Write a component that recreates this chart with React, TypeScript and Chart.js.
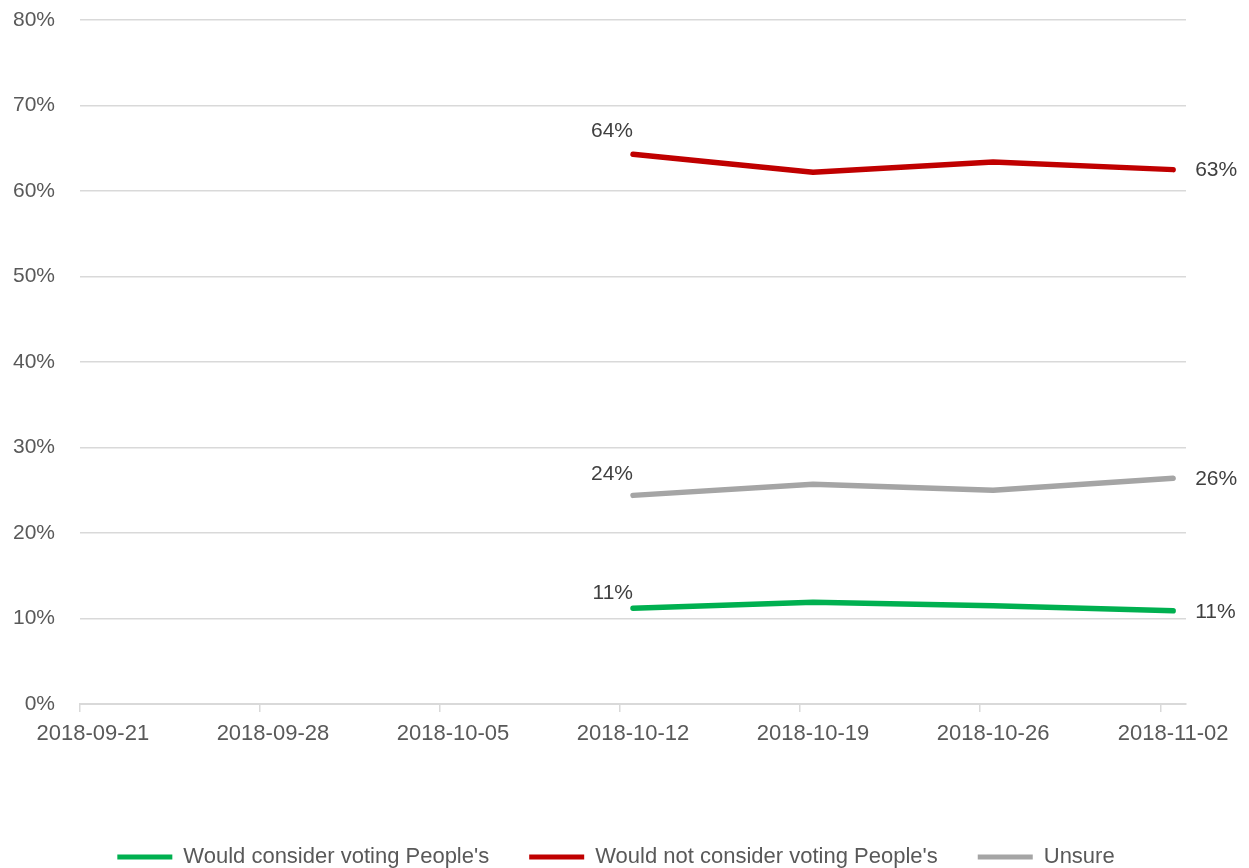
import React, { useEffect, useRef } from "react";
import { Chart, registerables } from "chart.js";

Chart.register(...registerables);

// ---- data ----
const startDate = "2018-09-21";
const endDate = "2018-11-02";
const tickLabels = [
  "2018-09-21",
  "2018-09-28",
  "2018-10-05",
  "2018-10-12",
  "2018-10-19",
  "2018-10-26",
  "2018-11-02",
];
const surveyDates = ["2018-10-12", "2018-10-19", "2018-10-26", "2018-11-02"];
const wouldConsider = [11.2, 11.9, 11.5, 10.9];
const wouldNotConsider = [64.3, 62.2, 63.4, 62.5];
const unsure = [24.4, 25.7, 25.0, 26.4];
const seriesNames = [
  "Would consider voting People's",
  "Would not consider voting People's",
  "Unsure",
];
const seriesColors = ["#00B050", "#C00000", "#A5A5A5"];
const firstLabelLift = [15, 23, 21];

const FONT = '"Liberation Sans", Arial, sans-serif';

function buildDays(): string[] {
  const out: string[] = [];
  const d = new Date(startDate + "T00:00:00Z");
  for (;;) {
    const iso = d.toISOString().slice(0, 10);
    out.push(iso);
    if (iso >= endDate) break;
    d.setUTCDate(d.getUTCDate() + 1);
  }
  return out;
}

const days = buildDays();

const toPoints = (vals: number[]) =>
  surveyDates.map((x, i) => ({ x, y: vals[i] }));

const endLabels = {
  id: "endLabels",
  afterDatasetsDraw(chart: any) {
    const ctx = chart.ctx;
    ctx.save();
    ctx.font = `21px ${FONT}`;
    ctx.fillStyle = "#404040";
    ctx.textBaseline = "middle";
    chart.data.datasets.forEach((ds: any, i: number) => {
      const meta = chart.getDatasetMeta(i);
      const pts = meta.data;
      if (!pts.length) return;
      const first = pts[0];
      const last = pts[pts.length - 1];
      const v0 = ds.data[0].y;
      const v1 = ds.data[ds.data.length - 1].y;
      ctx.textAlign = "right";
      ctx.fillText(Math.round(v0) + "%", first.x, first.y - firstLabelLift[i]);
      ctx.textAlign = "left";
      ctx.fillText(Math.round(v1) + "%", last.x + 22, last.y + 1);
    });
    ctx.restore();
  },
};

export default function App() {
  const ref = useRef<HTMLCanvasElement | null>(null);

  useEffect(() => {
    if (!ref.current) return;
    const seriesValues = [wouldConsider, wouldNotConsider, unsure];
    const chart = new Chart(ref.current, {
      type: "line",
      data: {
        labels: days,
        datasets: seriesValues.map((vals, i) => ({
          label: seriesNames[i],
          data: toPoints(vals) as any,
          borderColor: seriesColors[i],
          backgroundColor: seriesColors[i],
          borderWidth: 5.5,
          borderCapStyle: "round",
          borderJoinStyle: "round",
          pointRadius: 0,
          tension: 0,
          fill: false,
          yAxisID: "y",
        })),
      },
      options: {
        responsive: false,
        animation: false,
        layout: { padding: { top: 20, right: 17, left: 0, bottom: 0 } },
        scales: {
          x: {
            type: "category",
            offset: true,
            grid: {
              offset: true,
              drawOnChartArea: false,
              drawTicks: true,
              tickLength: 8,
              lineWidth: 1.5,
              color: (c: any) =>
                c.index !== undefined && tickLabels.includes(days[c.index])
                  ? "#d9d9d9"
                  : "rgba(0,0,0,0)",
            },
            border: { display: true, color: "#d9d9d9", width: 2 },
            ticks: {
              autoSkip: false,
              maxRotation: 0,
              minRotation: 0,
              padding: 9,
              color: "#595959",
              font: { family: FONT, size: 22 },
              callback: (_v: any, idx: number) =>
                tickLabels.includes(days[idx]) ? days[idx] : "",
            },
            afterFit: (s: any) => {
              s.height = 102;
              s.paddingLeft = 0;
              s.paddingRight = 0;
            },
          },
          y: {
            min: 0,
            max: 80,
            grid: { color: "#d9d9d9", lineWidth: 1.5, drawTicks: false },
            border: { display: false },
            ticks: {
              stepSize: 10,
              padding: 25,
              color: "#595959",
              font: { family: FONT, size: 21 },
              callback: (v: any) => v + "%",
            },
            afterFit: (s: any) => {
              s.width = 80;
              s.paddingTop = 0;
              s.paddingBottom = 0;
            },
          },
          yRight: {
            type: "linear",
            position: "right",
            display: true,
            grid: { drawOnChartArea: false, drawTicks: false },
            border: { display: false },
            ticks: { display: false },
            afterFit: (s: any) => {
              s.width = 46;
              s.paddingTop = 0;
              s.paddingBottom = 0;
            },
          },
        },
        plugins: {
          tooltip: { enabled: false },
          legend: {
            position: "bottom",
            labels: {
              boxWidth: 55,
              boxHeight: 5,
              padding: 40,
              color: "#595959",
              font: { family: FONT, size: 22 },
              generateLabels: (c: any) =>
                Chart.defaults.plugins.legend.labels
                  .generateLabels(c)
                  .map((l: any) => ({ ...l, lineWidth: 0, fillStyle: l.strokeStyle })),
            },
          },
        },
      },
      plugins: [endLabels],
    });
    return () => chart.destroy();
  }, []);

  return (
    <div
      style={{
        position: "absolute",
        left: 0,
        top: 0,
        width: 1249,
        height: 868,
        overflow: "hidden",
        background: "#fff",
      }}
    >
      <canvas ref={ref} width={1249} height={878} style={{ display: "block" }} />
    </div>
  );
}
